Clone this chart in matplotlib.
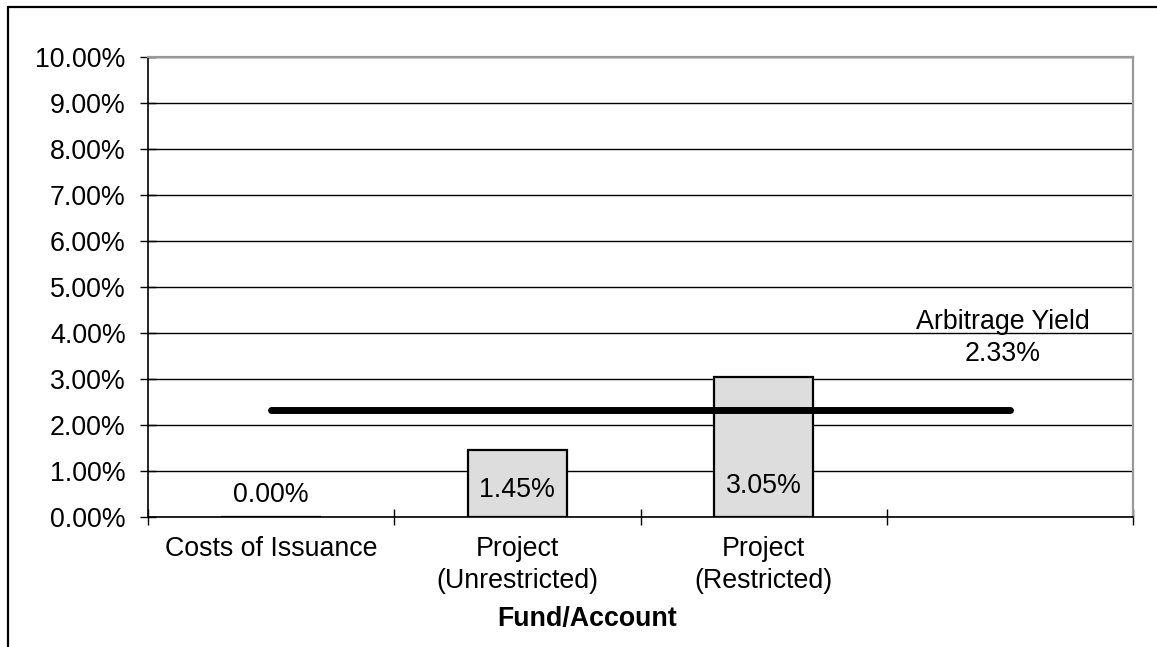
import matplotlib.pyplot as plt
from matplotlib.patches import Rectangle

plt.rcParams['font.family'] = ['Liberation Sans', 'DejaVu Sans']

# data
categories = ['Costs of Issuance', 'Project\n(Unrestricted)', 'Project\n(Restricted)', '']
yields = [0.00, 1.45, 3.05]
arbitrage_yield = 2.33
y_ticks = [0, 1, 2, 3, 4, 5, 6, 7, 8, 9, 10]

FS = 19.3

fig = plt.figure(figsize=(11.57, 6.47), dpi=100)
ax = fig.add_axes([148 / 1157, 1 - 517 / 647, 985 / 1157, 460 / 647])

# outer chart border (cropped on right/bottom)
fig.patches.append(Rectangle((8 / 1157, -0.1), 1.2, 1 - 7 / 647 + 0.1,
                             transform=fig.transFigure, fill=False,
                             edgecolor='black', linewidth=1.6))

x = range(len(yields))
bars = ax.bar(x, yields, width=0.405, color='#dddddd', edgecolor='black',
              linewidth=1.6, zorder=3)

# value labels near bar base
offsets = [9, 14, 18]
for xi, v, off in zip(x, yields, offsets):
    ax.annotate(f'{v:.2f}%', (xi, 0), xytext=(0, off * 0.72), textcoords='offset points',
                ha='center', va='bottom', fontsize=FS, zorder=5)

# arbitrage yield line
ax.plot([0, len(categories) - 1], [arbitrage_yield, arbitrage_yield], color='black',
        linewidth=5, solid_capstyle='round', zorder=4)
ax.text(2.97, 3.89, f'Arbitrage Yield\n{arbitrage_yield:.2f}%', ha='center', va='center',
        fontsize=FS, linespacing=1.3, zorder=5)

ax.set_xlim(-0.5, len(categories) - 0.5)
ax.set_ylim(0, 10)
ax.set_yticks(y_ticks)
ax.set_yticklabels([f'{t:.2f}%' for t in y_ticks], fontsize=FS)
ax.yaxis.grid(True, color='black', linewidth=1)
ax.set_axisbelow(True)

ax.set_xticks(range(len(categories)))
ax.set_xticklabels(categories, fontsize=FS, linespacing=1.3)
ax.set_xticks([i - 0.5 for i in range(len(categories) + 1)], minor=True)
ax.tick_params(axis='x', which='major', length=0, pad=14)
ax.tick_params(axis='x', which='minor', direction='inout', length=12, width=1)
ax.tick_params(axis='y', direction='inout', length=12, width=1, pad=10)

for s in ['left', 'bottom']:
    ax.spines[s].set_color('black')
    ax.spines[s].set_linewidth(1.2)
for s in ['top', 'right']:
    ax.spines[s].set_color('#999999')
    ax.spines[s].set_linewidth(1.6)

fig.text(587 / 1157, 1 - 619 / 647, 'Fund/Account', ha='center', va='center',
         fontsize=FS, fontweight='bold')

fig.savefig('out.png', dpi=100)
